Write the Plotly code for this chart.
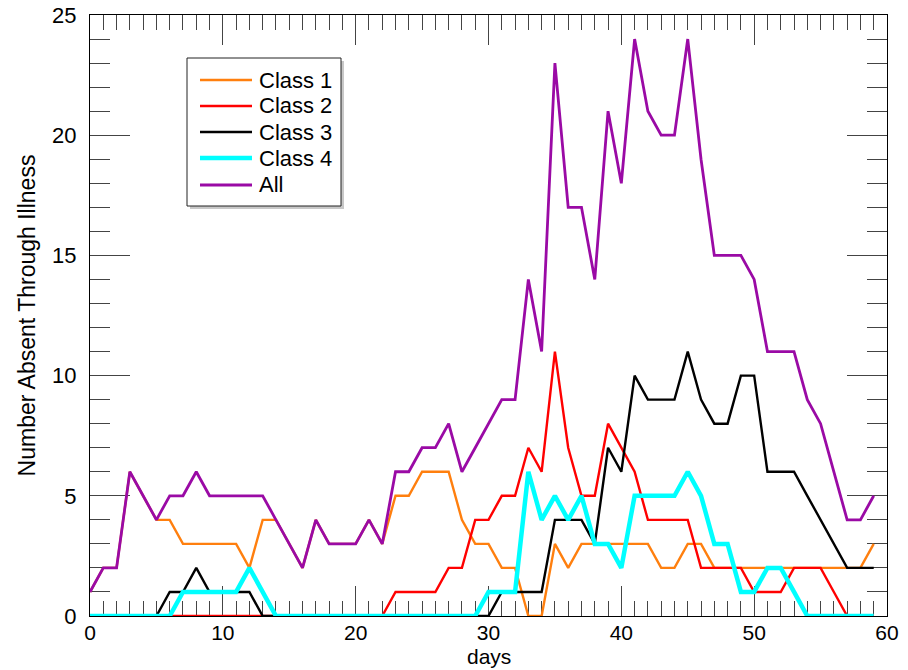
import plotly.graph_objects as go

days = list(range(60))

class1 = [1, 2, 2, 6, 5, 4, 4, 3, 3, 3, 3, 3, 2, 4, 4, 3, 2, 4, 3, 3,
          3, 4, 3, 5, 5, 6, 6, 6, 4, 3, 3, 2, 2, 0, 0, 3, 2, 3, 3, 3,
          3, 3, 3, 2, 2, 3, 3, 2, 2, 2, 2, 2, 2, 2, 2, 2, 2, 2, 2, 3]
class2 = [0, 0, 0, 0, 0, 0, 0, 0, 0, 0, 0, 0, 0, 0, 0, 0, 0, 0, 0, 0,
          0, 0, 0, 1, 1, 1, 1, 2, 2, 4, 4, 5, 5, 7, 6, 11, 7, 5, 5, 8,
          7, 6, 4, 4, 4, 4, 2, 2, 2, 2, 1, 1, 1, 2, 2, 2, 1, 0, 0, 0]
class3 = [0, 0, 0, 0, 0, 0, 1, 1, 2, 1, 1, 1, 1, 0, 0, 0, 0, 0, 0, 0,
          0, 0, 0, 0, 0, 0, 0, 0, 0, 0, 0, 1, 1, 1, 1, 4, 4, 4, 3, 7,
          6, 10, 9, 9, 9, 11, 9, 8, 8, 10, 10, 6, 6, 6, 5, 4, 3, 2, 2, 2]
class4 = [0, 0, 0, 0, 0, 0, 0, 1, 1, 1, 1, 1, 2, 1, 0, 0, 0, 0, 0, 0,
          0, 0, 0, 0, 0, 0, 0, 0, 0, 0, 1, 1, 1, 6, 4, 5, 4, 5, 3, 3,
          2, 5, 5, 5, 5, 6, 5, 3, 3, 1, 1, 2, 2, 1, 0, 0, 0, 0, 0, 0]
all_classes = [1, 2, 2, 6, 5, 4, 5, 5, 6, 5, 5, 5, 5, 5, 4, 3, 2, 4, 3, 3,
               3, 4, 3, 6, 6, 7, 7, 8, 6, 7, 8, 9, 9, 14, 11, 23, 17, 17, 14, 21,
               18, 24, 21, 20, 20, 24, 19, 15, 15, 15, 14, 11, 11, 11, 9, 8, 6, 4, 4, 5]

names = ["Class 1", "Class 2", "Class 3", "Class 4", "All"]
colors = ["#ff7f0e", "#ff0000", "#000000", "#00ffff", "#9a0aa5"]
widths = [2.4, 2.4, 2.4, 4.5, 2.8]
values = [class1, class2, class3, class4, all_classes]

FONT = "Liberation Sans, Arial, Helvetica, sans-serif"

fig = go.Figure()
for name, vals, color, w in zip(names, values, colors, widths):
    fig.add_trace(go.Scatter(x=days, y=vals, mode="lines", name=name,
                             line=dict(color=color, width=w), showlegend=False))

# plot area in pixels (for legend placement in paper coords)
L, T, W, H = 90, 15, 797, 601


def px(xp):
    return (xp - L) / W


def py(yp):
    return 1 - (yp - T) / H


shapes = []
# legend shadow and box
shapes.append(dict(type="rect", xref="paper", yref="paper",
                   x0=px(190), x1=px(344), y0=py(209), y1=py(61),
                   fillcolor="#c8c8c8", line=dict(width=0), layer="above"))
shapes.append(dict(type="rect", xref="paper", yref="paper",
                   x0=px(187), x1=px(341), y0=py(206), y1=py(58),
                   fillcolor="white", line=dict(color="#222", width=1), layer="above"))
annotations = []
rows = [80, 106, 132, 158, 185]
for name, color, w, r in zip(names, colors, widths, rows):
    shapes.append(dict(type="line", xref="paper", yref="paper",
                       x0=px(200), x1=px(252), y0=py(r), y1=py(r),
                       line=dict(color=color, width=w), layer="above"))
    annotations.append(dict(xref="paper", yref="paper", x=px(257), y=py(r),
                            xanchor="left", yanchor="middle", text=name,
                            showarrow=False, font=dict(family=FONT, size=22, color="black")))

# x-axis title placed just under the tick labels
annotations.append(dict(xref="paper", yref="paper", x=0.5, y=py(644),
                        xanchor="center", yanchor="top", text="days",
                        showarrow=False, borderpad=0,
                        font=dict(family=FONT, size=21, color="black")))

fig.update_layout(
    width=908, height=670,
    margin=dict(l=L, r=908 - L - W, t=T, b=670 - T - H),
    paper_bgcolor="white", plot_bgcolor="white",
    font=dict(family=FONT, size=22, color="black"),
    showlegend=False,
    shapes=shapes,
    annotations=annotations,
    xaxis=dict(range=[0, 60], dtick=10, tick0=0, ticks="inside", ticklen=30,
               tickcolor="#444", showline=True, linecolor="black", linewidth=1,
               mirror="allticks", showgrid=False, zeroline=False, automargin=False,
               ticklabelstandoff=-2, tickfont=dict(size=21),
               minor=dict(dtick=1, ticks="inside", ticklen=15, tickcolor="#444", showgrid=False),
               layer="below traces"),
    yaxis=dict(range=[0, 25], dtick=5, tick0=0, ticks="inside", ticklen=40,
               tickcolor="#444", showline=True, linecolor="black", linewidth=1,
               mirror="allticks", showgrid=False, zeroline=False, automargin=False,
               ticklabelstandoff=8,
               minor=dict(dtick=1, ticks="inside", ticklen=20, tickcolor="#444", showgrid=False),
               title=dict(text="Number Absent Through Illness", standoff=10,
                          font=dict(size=23)),
               layer="below traces"),
)

fig.write_html("out.html")
